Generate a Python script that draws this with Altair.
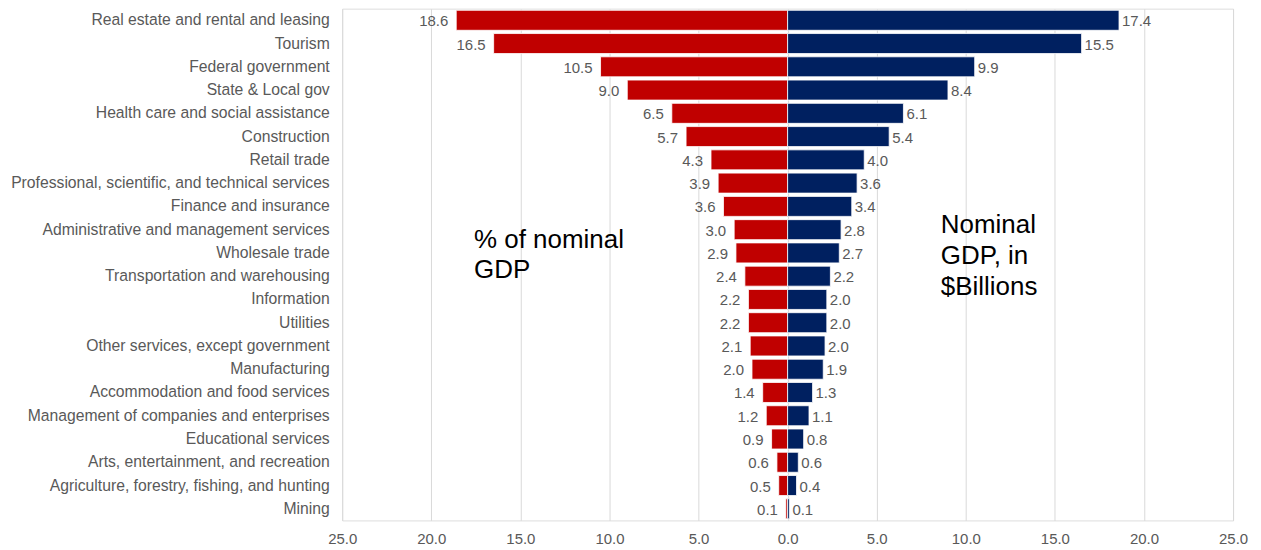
import altair as alt
import pandas as pd

categories = [
    "Real estate and rental and leasing",
    "Tourism",
    "Federal government",
    "State & Local gov",
    "Health care and social assistance",
    "Construction",
    "Retail trade",
    "Professional, scientific, and technical services",
    "Finance and insurance",
    "Administrative and management services",
    "Wholesale trade",
    "Transportation and warehousing",
    "Information",
    "Utilities",
    "Other services, except government",
    "Manufacturing",
    "Accommodation and food services",
    "Management of companies and enterprises",
    "Educational services",
    "Arts, entertainment, and recreation",
    "Agriculture, forestry, fishing, and hunting",
    "Mining",
]
pct_of_gdp = [18.6, 16.5, 10.5, 9.0, 6.5, 5.7, 4.3, 3.9, 3.6, 3.0, 2.9, 2.4,
              2.2, 2.2, 2.1, 2.0, 1.4, 1.2, 0.9, 0.6, 0.5, 0.1]
gdp_billions = [17.4, 15.5, 9.9, 8.4, 6.1, 5.4, 4.0, 3.6, 3.4, 2.8, 2.7, 2.2,
                2.0, 2.0, 2.0, 1.9, 1.3, 1.1, 0.8, 0.6, 0.4, 0.1]
tick_values = [-25, -20, -15, -10, -5, 0, 5, 10, 15, 20, 25]

df = pd.DataFrame({
    "category": categories,
    "pct": pct_of_gdp,
    "neg": [-v for v in pct_of_gdp],
    "gdp": gdp_billions,
})

FONT = "Liberation Sans"
GREY = "#595959"

x_axis = alt.Axis(values=tick_values, labelExpr="format(abs(datum.value), '.1f')",
                  grid=True, gridColor="#d9d9d9", gridWidth=1, domain=False, ticks=False,
                  labelFontSize=15, labelColor=GREY, labelFont=FONT, labelPadding=11,
                  labelFlush=False, labelOverlap=False, title=None)
x_scale = alt.Scale(domain=[-25, 25], nice=False, zero=False)
y_enc = alt.Y("category:N", sort=categories,
              scale=alt.Scale(paddingInner=0.14, paddingOuter=0.07),
              axis=alt.Axis(title=None, domain=False, ticks=False, grid=False,
                            labelFontSize=15.75, labelColor=GREY, labelFont=FONT,
                            labelPadding=13, labelLimit=0))

base = alt.Chart(df).encode(y=y_enc)

left_bars = base.mark_bar(color="#C00000", stroke="white", strokeWidth=0.8).encode(
    x=alt.X("neg:Q", scale=x_scale, axis=x_axis), x2=alt.datum(0))
right_bars = base.mark_bar(color="#002060", stroke="white", strokeWidth=0.8).encode(
    x=alt.X("pct:Q", scale=x_scale, axis=x_axis), x2=alt.datum(0))

left_text = base.mark_text(align="right", baseline="middle", dx=-8, dy=1, fontSize=15,
                           color=GREY, font=FONT).encode(
    x=alt.X("neg:Q", scale=x_scale, axis=x_axis),
    text=alt.Text("pct:Q", format=".1f"))
right_text = base.mark_text(align="left", baseline="middle", dx=3, dy=1, fontSize=15,
                            color=GREY, font=FONT).encode(
    x=alt.X("pct:Q", scale=x_scale, axis=x_axis),
    text=alt.Text("gdp:Q", format=".1f"))

ann_left = alt.Chart(pd.DataFrame({"x": [-17.6], "t": ["% of nominal\nGDP"]})).mark_text(
    align="left", baseline="alphabetic", fontSize=26, lineHeight=30, lineBreak="\n",
    color="black", font=FONT).encode(
    x=alt.X("x:Q", scale=x_scale, axis=x_axis), y=alt.value(240), text="t:N")
ann_right = alt.Chart(pd.DataFrame({"x": [8.6], "t": ["Nominal\nGDP, in\n$Billions"]})).mark_text(
    align="left", baseline="alphabetic", fontSize=26, lineHeight=31, lineBreak="\n",
    color="black", font=FONT).encode(
    x=alt.X("x:Q", scale=x_scale, axis=x_axis), y=alt.value(225), text="t:N")

chart = alt.layer(left_bars, right_bars, left_text, right_text, ann_left, ann_right).properties(
    width=893, height=513,
    padding={"left": 2, "top": 0, "right": 5, "bottom": 5},
).configure_view(strokeWidth=0, stroke="transparent").configure(font=FONT)

chart.save("out.html", embed_options={"renderer": "svg", "actions": False})
